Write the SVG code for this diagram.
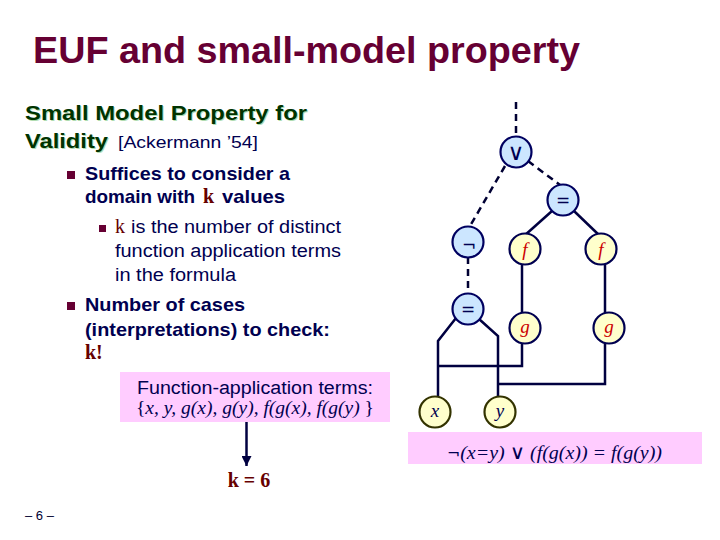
<svg xmlns="http://www.w3.org/2000/svg" width="720" height="540" viewBox="0 0 720 540">
<defs>
<style>
.title{font-family:"Liberation Sans",Arial,sans-serif;font-weight:bold;font-size:36px;fill:#660033}
.head{font-family:"Liberation Sans",Arial,sans-serif;font-weight:bold;font-size:20px;fill:#003300}
.shadow{fill:#b0dcb0}
.headn{font-family:"Liberation Sans",Arial,sans-serif;font-size:17px;fill:#000050}
.b1{font-family:"Liberation Sans",Arial,sans-serif;font-weight:bold;font-size:19px;fill:#000050}
.b2{font-family:"Liberation Sans",Arial,sans-serif;font-size:18px;fill:#000050}
.kk{font-family:"Liberation Serif","Times New Roman",serif;font-weight:bold;font-size:20px;fill:#660000}
.mi{font-family:"Liberation Serif","Times New Roman",serif;font-style:italic;font-size:19px;fill:#000050}
.up{font-family:"DejaVu Sans",sans-serif;font-style:normal;font-weight:normal;font-size:15px}
.vee{font-family:"DejaVu Sans",sans-serif;font-style:normal;font-weight:normal;font-size:20px}
.sym{font-family:"DejaVu Sans",sans-serif;font-size:17px;fill:#000050;text-anchor:middle}
.fn{font-family:"Liberation Serif","Times New Roman",serif;font-style:italic;font-size:19px;fill:#cc0000;text-anchor:middle}
.var{font-family:"Liberation Serif","Times New Roman",serif;font-style:italic;font-size:19px;fill:#000050;text-anchor:middle}
.op{fill:#cce6ff;stroke:#000060;stroke-width:2.2}
.fg{fill:#ffffcc;stroke:#000050;stroke-width:2.2}
.lf{fill:#ffffcc;stroke:#333300;stroke-width:2.2}
.bul{fill:#660033}
.dash{fill:none;stroke:#000033;stroke-width:2.5;stroke-dasharray:7,5}
.sol{fill:none;stroke:#000040;stroke-width:2.5}
.pink{fill:#ffccff}
</style>
<marker id="ah" viewBox="0 0 10 10" refX="10" refY="5" markerWidth="4" markerHeight="4" orient="auto" markerUnits="strokeWidth">
<path d="M0,0 L10,5 L0,10 z" fill="#000040"/>
</marker>
</defs>
<rect width="720" height="540" fill="#ffffff"/>

<text class="title" x="33" y="63" textLength="547" lengthAdjust="spacingAndGlyphs">EUF and small-model property</text>

<g id="heading">
<text class="head shadow" x="26" y="121" textLength="282" lengthAdjust="spacingAndGlyphs">Small Model Property for</text>
<text class="head" x="25" y="120" textLength="282" lengthAdjust="spacingAndGlyphs">Small Model Property for</text>
<text class="head shadow" x="26" y="149" textLength="83" lengthAdjust="spacingAndGlyphs">Validity</text>
<text class="head" x="25" y="148" textLength="83" lengthAdjust="spacingAndGlyphs">Validity</text>
<text class="headn" x="118" y="148" textLength="140" lengthAdjust="spacingAndGlyphs">[Ackermann ’54]</text>
</g>

<g id="bullets">
<rect class="bul" x="67" y="171" width="8" height="8"/>
<text class="b1" x="85" y="180" textLength="205" lengthAdjust="spacingAndGlyphs">Suffices to consider a</text>
<text class="b1" x="85" y="203" textLength="110" lengthAdjust="spacingAndGlyphs">domain with</text>
<text class="kk" x="203" y="203">k</text>
<text class="b1" x="222" y="203" textLength="63" lengthAdjust="spacingAndGlyphs">values</text>

<rect class="bul" x="99" y="225" width="7" height="7"/>
<text class="kk" x="115" y="233" style="font-weight:normal">k</text>
<text class="b2" x="131" y="233" textLength="210" lengthAdjust="spacingAndGlyphs">is the number of distinct</text>
<text class="b2" x="115" y="257" textLength="226" lengthAdjust="spacingAndGlyphs">function application terms</text>
<text class="b2" x="115" y="281" textLength="121" lengthAdjust="spacingAndGlyphs">in the formula</text>

<rect class="bul" x="67" y="302" width="8" height="8"/>
<text class="b1" x="85" y="311" textLength="160" lengthAdjust="spacingAndGlyphs">Number of cases</text>
<text class="b1" x="85" y="336" textLength="245" lengthAdjust="spacingAndGlyphs">(interpretations) to check:</text>
<text class="kk" x="85" y="359">k!</text>
</g>

<g id="terms-box">
<rect class="pink" x="120" y="372" width="270" height="50"/>
<text class="b2" x="137" y="394" textLength="236" lengthAdjust="spacingAndGlyphs">Function-application terms:</text>
<text class="mi" x="136" y="414" textLength="238" lengthAdjust="spacingAndGlyphs"><tspan style="font-style:normal">{</tspan>x, y, g(x), g(y), f(g(x), f(g(y) <tspan style="font-style:normal">}</tspan></text>
</g>

<g id="k-result">
<text class="kk" x="249" y="487" text-anchor="middle">k = 6</text>
</g>

<g id="formula-box">
<rect class="pink" x="408" y="432" width="294" height="32"/>
<text class="mi" x="447" y="459" textLength="215" lengthAdjust="spacingAndGlyphs"><tspan class="up">¬</tspan>(x=y) <tspan class="vee">∨</tspan>  (f(g(x)) = f(g(y))</text>
</g>

<text x="25" y="520" style="font-family:'Liberation Sans',Arial,sans-serif;font-size:13px;fill:#000033">– 6 –</text>

<g id="connectors">
<line class="dash" x1="516" y1="102" x2="516" y2="136"/>
<line class="dash" x1="528" y1="161" x2="560" y2="185"/>
<line class="dash" x1="505" y1="166" x2="470" y2="226"/>
<line class="dash" x1="468" y1="257" x2="468" y2="294"/>
<line class="sol" x1="552" y1="211" x2="524" y2="236"/>
<line class="sol" x1="574" y1="211" x2="600" y2="236"/>
<line class="sol" x1="522" y1="264" x2="522" y2="313"/>
<line class="sol" x1="605" y1="264" x2="605" y2="313"/>
<polyline class="sol" points="456,318 438,341 438,397"/>
<polyline class="sol" points="479,319 498,336 498,397"/>
<polyline class="sol" points="522,343 522,366 438,366"/>
<polyline class="sol" points="605,343 605,384 498,384"/>
<line class="sol" x1="246.5" y1="422" x2="246.5" y2="466" marker-end="url(#ah)"/>
</g>

<g id="n-or"><circle class="op" cx="516" cy="152" r="15.5"/><text class="sym" x="516" y="160" style="font-size:23px">∨</text></g>
<g id="n-eq-top"><circle class="op" cx="563" cy="200" r="15.5"/><text class="sym" x="563" y="206">=</text></g>
<g id="n-not"><circle class="op" cx="468" cy="242" r="15.5"/><text class="sym" x="469" y="251">¬</text></g>
<g id="n-f1"><circle class="fg" cx="525" cy="249" r="15.5"/><text class="fn" x="525" y="256">f</text></g>
<g id="n-f2"><circle class="fg" cx="601" cy="249" r="15.5"/><text class="fn" x="601" y="256">f</text></g>
<g id="n-eq-low"><circle class="op" cx="468" cy="309" r="15.5"/><text class="sym" x="468" y="315">=</text></g>
<g id="n-g1"><circle class="fg" cx="525" cy="328" r="15.5"/><text class="fn" x="525" y="333">g</text></g>
<g id="n-g2"><circle class="fg" cx="609" cy="328" r="15.5"/><text class="fn" x="609" y="333">g</text></g>
<g id="n-x"><circle class="lf" cx="435" cy="412" r="15.5"/><text class="var" x="435" y="417">x</text></g>
<g id="n-y"><circle class="lf" cx="500" cy="412" r="15.5"/><text class="var" x="500" y="417">y</text></g>
</svg>
